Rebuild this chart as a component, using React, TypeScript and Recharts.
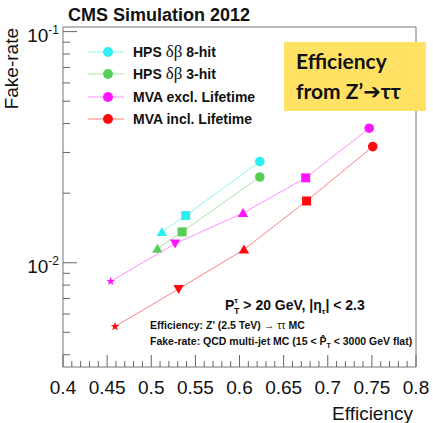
import { ScatterChart, Scatter, XAxis, YAxis, ReferenceArea, Legend } from 'recharts'

// working points (efficiency, fake-rate)
const hps8Eff = [0.512, 0.539, 0.623]
const hps8Fake = [0.0136, 0.016, 0.0274]
const hps3Eff = [0.507, 0.535, 0.623]
const hps3Fake = [0.0115, 0.0136, 0.0235]
const mvaExclEff = [0.454, 0.527, 0.604, 0.675, 0.747]
const mvaExclFake = [0.0083, 0.0121, 0.0164, 0.0233, 0.0382]
const mvaInclEff = [0.459, 0.531, 0.605, 0.676, 0.751]
const mvaInclFake = [0.0053, 0.0077, 0.0114, 0.0185, 0.0318]

const seriesNames = ['HPS δβ 8-hit', 'HPS δβ 3-hit', 'MVA excl. Lifetime', 'MVA incl. Lifetime']

const xMajorTicks = [0.4, 0.45, 0.5, 0.55, 0.6, 0.65, 0.7, 0.75, 0.8]
const yDecades = [0.001, 0.01]
const yMantissas = [2, 3, 4, 5, 6, 7, 8, 9]
const yDecadeLabels: Record<string, string> = { '0.01': '-2', '0.1': '-1' }

const X_DOMAIN: [number, number] = [0.4, 0.8]
const Y_DOMAIN: [number, number] = [0.00354, 0.1047]

// marker per working point (loosest -> tightest), aligned to the end of each series
const wpShapes = ['star', 'down', 'up', 'square', 'circle']

const xTicks: number[] = []
xMajorTicks.forEach((v, i) => {
  xTicks.push(v)
  if (i < xMajorTicks.length - 1) {
    for (let k = 1; k < 5; k++) xTicks.push(Math.round((v + k * 0.01) * 100) / 100)
  }
})

const yTicks: number[] = []
yDecades.forEach((d) => {
  yMantissas.forEach((m) => {
    const v = Number((m * d).toPrecision(3))
    if (v >= Y_DOMAIN[0]) yTicks.push(v)
  })
  yTicks.push(Number((d * 10).toPrecision(3)))
})
yTicks.sort((a, b) => a - b)

const series = [
  { name: seriesNames[0], eff: hps8Eff, fake: hps8Fake, color: '#2DEFEF', line: '#8CF5F5' },
  { name: seriesNames[1], eff: hps3Eff, fake: hps3Fake, color: '#57CF57', line: '#A8E3A3' },
  { name: seriesNames[2], eff: mvaExclEff, fake: mvaExclFake, color: '#FF14FF', line: '#FF8CFF' },
  { name: seriesNames[3], eff: mvaInclEff, fake: mvaInclFake, color: '#FF0A0A', line: '#FF8080' },
]

const FONT = '"Liberation Sans", Arial, sans-serif'

function Marker({ cx, cy, kind, color }: { cx: number; cy: number; kind: string; color: string }) {
  if (kind === 'circle') return <circle cx={cx} cy={cy} r={4.8} fill={color} />
  if (kind === 'square') return <rect x={cx - 4.5} y={cy - 4.5} width={9} height={9} fill={color} />
  if (kind === 'up')
    return <polygon points={`${cx - 5.2},${cy + 4} ${cx + 5.2},${cy + 4} ${cx},${cy - 5}`} fill={color} />
  if (kind === 'down')
    return <polygon points={`${cx - 5.2},${cy - 4} ${cx + 5.2},${cy - 4} ${cx},${cy + 5}`} fill={color} />
  const pts: string[] = []
  for (let i = 0; i < 10; i++) {
    const r = i % 2 === 0 ? 4.5 : 1.9
    const a = -Math.PI / 2 + (i * Math.PI) / 5
    pts.push(`${cx + r * Math.cos(a)},${cy + r * Math.sin(a)}`)
  }
  return <polygon points={pts.join(' ')} fill={color} />
}

function XTick(props: any) {
  const { x, y, payload } = props
  const v = payload.value as number
  const major = Math.round(v * 100) % 5 === 0
  return (
    <g>
      <line x1={x} y1={y} x2={x} y2={y - (major ? 12 : 6)} stroke="#666" />
      {major && (
        <text x={x} y={y + 27} textAnchor="middle" fontSize={19} fontFamily={FONT} fill="#111">
          {String(Number(v.toFixed(2)))}
        </text>
      )}
    </g>
  )
}

function YTick(props: any) {
  const { x, y, payload } = props
  const v = payload.value as number
  const label = yDecadeLabels[String(v)]
  return (
    <g>
      <line x1={x} y1={y} x2={x + (label ? 14 : 7)} y2={y} stroke="#666" />
      {label && (
        <text x={x - 4} y={y + 10} textAnchor="end" fontSize={19} fontFamily={FONT} fill="#111">
          10
          <tspan fontSize={12} dy={-8}>
            {label}
          </tspan>
        </text>
      )}
    </g>
  )
}

function legendName(name: string) {
  const parts = name.split('δβ')
  if (parts.length === 1) return name
  return (
    <>
      {parts[0]}
      <span style={{ fontFamily: '"Liberation Serif", serif', fontWeight: 'normal', fontSize: 17 }}>δβ</span>
      {parts[1]}
    </>
  )
}

const renderLegend = () => (
  <div style={{ fontFamily: FONT, fontWeight: 'bold', fontSize: 14, color: '#111' }}>
    {series.map((s) => (
      <div key={s.name} style={{ display: 'flex', alignItems: 'center', height: 22.5 }}>
        <svg width={36} height={12}>
          <line x1={0} y1={6} x2={36} y2={6} stroke={s.line} />
          <circle cx={20} cy={6} r={5} fill={s.color} />
        </svg>
        <span style={{ marginLeft: 9, whiteSpace: 'nowrap' }}>{legendName(s.name)}</span>
      </div>
    ))}
  </div>
)

export default function App() {
  return (
    <div style={{ position: 'absolute', left: 0, top: 0, width: 433, height: 423, background: '#fff' }}>
      <ScatterChart width={433} height={423} margin={{ top: 27, right: 17, bottom: 0, left: 0 }}>
        <XAxis
          type="number"
          dataKey="x"
          domain={X_DOMAIN}
          allowDataOverflow
          ticks={xTicks}
          interval={0}
          height={56}
          tickSize={0}
          tickMargin={0}
          tickLine={false}
          axisLine={false}
          tick={XTick}
        />
        <YAxis
          type="number"
          dataKey="y"
          scale="log"
          domain={Y_DOMAIN}
          allowDataOverflow
          ticks={yTicks}
          interval={0}
          width={63}
          tickSize={0}
          tickMargin={0}
          tickLine={false}
          axisLine={false}
          tick={YTick}
        />
        <ReferenceArea
          x1={X_DOMAIN[0]}
          x2={X_DOMAIN[1]}
          y1={Y_DOMAIN[0]}
          y2={Y_DOMAIN[1]}
          fill="none"
          fillOpacity={0}
          stroke="#777"
          strokeWidth={1}
        />
        <Legend
          layout="vertical"
          verticalAlign="middle"
          align="center"
          content={renderLegend}
          wrapperStyle={{ left: 88, top: 40.5, width: 220 }}
        />
        {series.map((s) => (
          <Scatter
            key={s.name}
            name={s.name}
            data={s.eff.map((x, i) => ({ x, y: s.fake[i] }))}
            fill={s.color}
            line={{ stroke: s.line, strokeWidth: 1 }}
            isAnimationActive={false}
            shape={(p: any) => {
              const idx = s.eff.indexOf(p.payload.x)
              const kind = wpShapes[wpShapes.length - s.eff.length + idx]
              return <Marker cx={p.cx} cy={p.cy} kind={kind} color={s.color} />
            }}
          />
        ))}
      </ScatterChart>

      <svg
        width={433}
        height={423}
        style={{ position: 'absolute', left: 0, top: 0, pointerEvents: 'none' }}
        fontFamily={FONT}
        fill="#111"
      >
        <text x={68} y={21} fontSize={18} fontWeight="bold">
          CMS Simulation 2012
        </text>
        <text x={18} y={28} fontSize={19} textAnchor="end" transform="rotate(-90 18 28)">
          Fake-rate
        </text>
        <text x={413} y={420} fontSize={19} textAnchor="end">
          Efficiency
        </text>

        <rect x={284} y={42} width={142} height={69} fill="#FFE263" />
        <text x={296} y={69} fontSize={21} fontWeight="bold" fontFamily="Lato, 'DejaVu Sans', sans-serif">
          Efficiency
        </text>
        <text x={296} y={99} fontSize={21} fontWeight="bold" fontFamily="Lato, 'DejaVu Sans', sans-serif">
          from Z’<tspan fontFamily="'DejaVu Sans'">➔</tspan>ττ
        </text>

        <text x={225} y={310} fontSize={14} fontWeight="bold">
          P<tspan fontSize={8} dy={-7}>τ</tspan>
          <tspan fontSize={9} dx={-4} dy={11}>T</tspan>
          <tspan dy={-4}> &gt; 20 GeV, |η</tspan>
          <tspan fontSize={8} dy={4}>τ</tspan>
          <tspan dy={-4}>| &lt; 2.3</tspan>
        </text>
        <text x={150} y={329} fontSize={10.5} fontWeight="bold">
          Efficiency: Z' (2.5 TeV) <tspan fontWeight="normal">→ ττ</tspan> MC
        </text>
        <text x={150} y={345} fontSize={10.5} fontWeight="bold">
          Fake-rate: QCD multi-jet MC (15 &lt; P̂
          <tspan fontSize={7} dy={3}>T</tspan>
          <tspan dy={-3}> &lt; 3000 GeV flat)</tspan>
        </text>
      </svg>
    </div>
  )
}
